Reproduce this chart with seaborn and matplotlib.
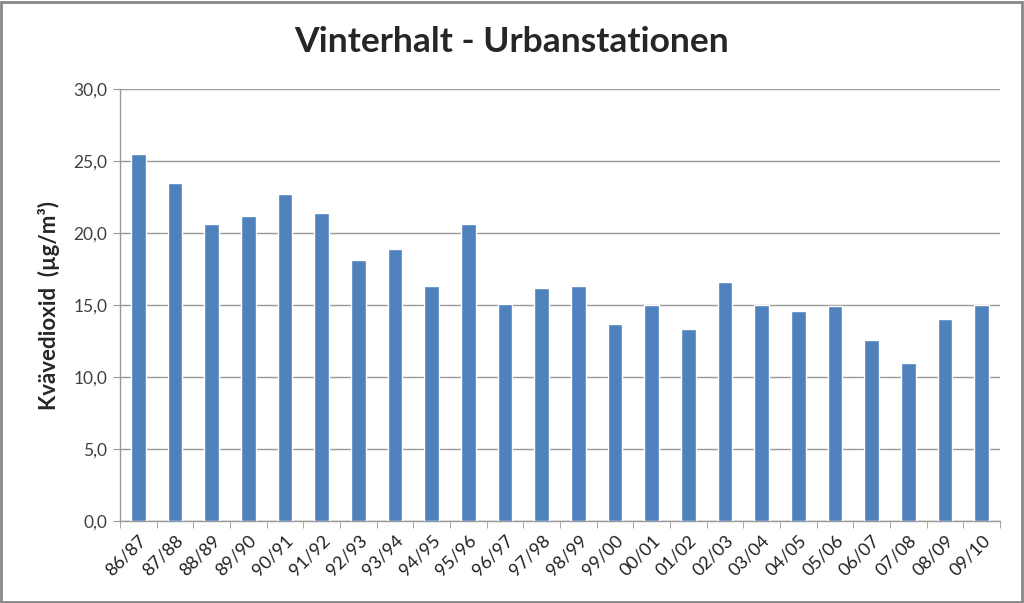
import pandas as pd
import numpy as np
from matplotlib import pyplot as plt
from matplotlib import ticker
from matplotlib.patches import Rectangle
import seaborn as sns

seasons = ["86/87", "87/88", "88/89", "89/90", "90/91", "91/92", "92/93", "93/94",
           "94/95", "95/96", "96/97", "97/98", "98/99", "99/00", "00/01", "01/02",
           "02/03", "03/04", "04/05", "05/06", "06/07", "07/08", "08/09", "09/10"]
no2 = [25.5, 23.5, 20.6, 21.2, 22.7, 21.4, 18.1, 18.9, 16.3, 20.6, 15.1, 16.2,
       16.3, 13.7, 15.0, 13.3, 16.6, 15.0, 14.6, 14.9, 12.6, 11.0, 14.0, 15.0]
yticks = [0, 5, 10, 15, 20, 25, 30]

sns.set_style("white")
plt.rcParams["font.family"] = ["Lato", "DejaVu Sans"]

df = pd.DataFrame({"season": seasons, "no2": no2})

fig = plt.figure(figsize=(10.24, 6.03), dpi=100)
ax = fig.add_axes([120 / 1024, 1 - 521 / 603, 880 / 1024, 432 / 603])

sns.barplot(data=df, x="season", y="no2", color="#4F81BD", saturation=1,
            width=0.4, ax=ax, zorder=3)

ax.set_ylim(0, 30)
ax.set_xlim(-0.5, len(seasons) - 0.5)
ax.set_yticks(yticks)
ax.yaxis.set_major_formatter(ticker.FuncFormatter(lambda v, pos: f"{v:.1f}".replace(".", ",")))
ax.yaxis.grid(True, color="#999999", linewidth=1, zorder=0)
ax.tick_params(axis="y", left=True, length=5, color="#999999", labelsize=12.5,
               labelcolor="#404040", pad=4)

# tick marks between categories, labels under bars
ax.set_xticks(np.arange(-0.5, len(seasons), 1), minor=True)
ax.tick_params(axis="x", which="minor", bottom=True, length=5, color="#999999")
ax.tick_params(axis="x", which="major", bottom=False, length=0, labelsize=13,
               labelcolor="#202020", pad=8)
plt.setp(ax.get_xticklabels(), rotation=45, ha="right", rotation_mode="anchor")

for side in ["top", "right"]:
    ax.spines[side].set_visible(False)
for side in ["left", "bottom"]:
    ax.spines[side].set_color("#999999")
    ax.spines[side].set_linewidth(1)

ax.set_xlabel("")
ax.set_ylabel("Kvävedioxid  (µg/m³)", fontsize=16, fontweight="bold", labelpad=10)

fig.suptitle("Vinterhalt - Urbanstationen", x=512 / 1024, y=1 - 42 / 603,
             va="center", fontsize=25.5, fontweight="bold")

fig.patches.append(Rectangle((0.001, 0.002), 0.997, 0.995, transform=fig.transFigure,
                             fill=False, edgecolor="#888888", linewidth=2))

fig.savefig("out.png", dpi=100)
